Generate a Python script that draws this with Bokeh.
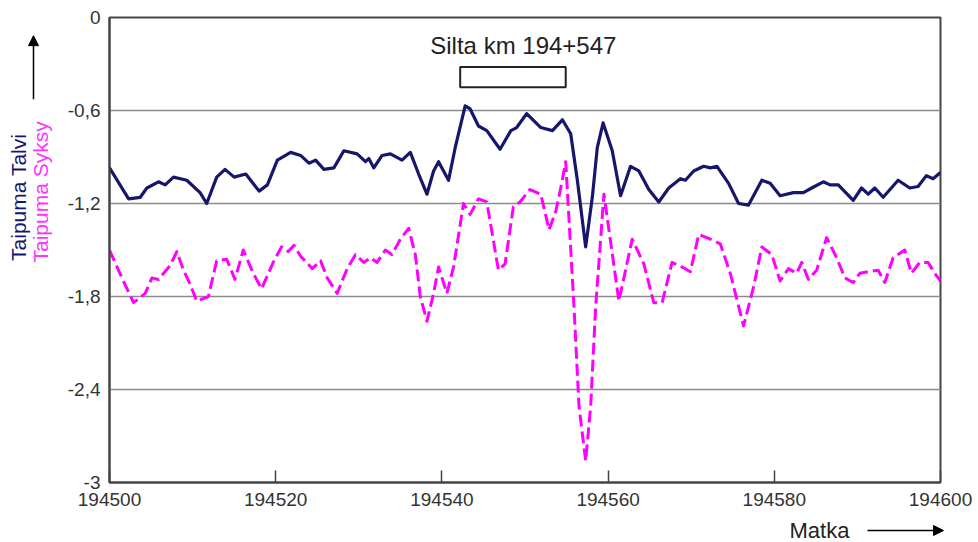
from bokeh.plotting import figure
from bokeh.layouts import row, column
from bokeh.models import (Range1d, FixedTicker, CustomJSTickFormatter, Label, Arrow,
                          NormalHead, BoxAnnotation, BasicTickFormatter)
from bokeh.embed import file_html
from bokeh.resources import INLINE

# ---- data ----
talvi_x = [194500.0, 194502.3, 194503.7, 194504.5, 194505.9, 194506.7, 194507.7, 194509.3,
           194510.9, 194511.7, 194512.9, 194513.9, 194515.0, 194516.4, 194518.0, 194519.0,
           194520.2, 194521.8, 194523.0, 194524.0, 194524.8, 194525.8, 194527.0, 194528.2,
           194529.8, 194530.8, 194531.2, 194531.8, 194532.8, 194533.8, 194535.2, 194536.2,
           194537.2, 194538.2, 194539.0, 194539.6, 194540.8, 194541.6, 194542.8, 194543.4,
           194544.4, 194545.4, 194547.0, 194548.3, 194549.0, 194550.2, 194551.9, 194553.3,
           194554.5, 194555.5, 194556.3, 194557.3, 194558.1, 194558.7, 194559.4, 194560.5,
           194561.5, 194562.7, 194563.7, 194564.9, 194566.1, 194567.3, 194568.7, 194569.3,
           194570.3, 194571.5, 194572.3, 194573.1, 194574.5, 194575.7, 194576.9, 194578.5,
           194579.5, 194580.7, 194582.3, 194583.5, 194584.5, 194585.9, 194586.7, 194587.7,
           194589.5, 194590.5, 194591.3, 194592.1, 194593.1, 194594.9, 194596.3, 194597.3,
           194598.3, 194599.1, 194600.0]
talvi_y = [-0.97, -1.17, -1.16, -1.10, -1.06, -1.08, -1.03, -1.05, -1.13, -1.20, -1.03, -0.98,
           -1.03, -1.01, -1.12, -1.08, -0.92, -0.87, -0.89, -0.94, -0.92, -0.98, -0.97, -0.86,
           -0.88, -0.93, -0.91, -0.97, -0.89, -0.88, -0.92, -0.87, -1.01, -1.14, -0.99, -0.93,
           -1.05, -0.84, -0.57, -0.59, -0.70, -0.73, -0.85, -0.73, -0.71, -0.62, -0.71, -0.73,
           -0.66, -0.75, -1.05, -1.48, -1.16, -0.84, -0.68, -0.86, -1.15, -0.96, -0.99, -1.11,
           -1.19, -1.10, -1.04, -1.05, -0.99, -0.96, -0.97, -0.96, -1.07, -1.20, -1.21, -1.05,
           -1.07, -1.15, -1.13, -1.13, -1.10, -1.06, -1.08, -1.08, -1.18, -1.10, -1.14, -1.10,
           -1.16, -1.05, -1.10, -1.09, -1.02, -1.04, -1.00]

syksy_x = [194500.0, 194501.5, 194502.9, 194504.3, 194505.1, 194505.9, 194507.3, 194508.1,
           194508.9, 194509.7, 194510.5, 194511.9, 194512.9, 194514.1, 194515.1, 194516.1,
           194517.3, 194518.3, 194519.7, 194520.7, 194521.5, 194522.2, 194523.0, 194524.4,
           194525.4, 194526.2, 194527.4, 194528.6, 194529.6, 194530.6, 194531.4, 194532.2,
           194533.2, 194534.0, 194535.0, 194536.0, 194536.8, 194537.4, 194538.2, 194539.0,
           194539.6, 194540.6, 194541.4, 194542.6, 194543.4, 194544.4, 194545.4, 194546.2,
           194546.8, 194547.6, 194548.6, 194549.4, 194550.6, 194551.9, 194552.9, 194553.7,
           194554.3, 194554.9, 194555.9, 194556.5, 194557.3, 194557.9, 194558.5, 194559.5,
           194561.3, 194562.9, 194564.3, 194565.5, 194566.5, 194567.7, 194568.9, 194569.9,
           194570.9, 194572.3, 194573.5, 194574.7, 194576.3, 194577.5, 194578.5, 194579.7,
           194580.7, 194581.7, 194582.7, 194583.3, 194584.1, 194585.1, 194586.3, 194587.5,
           194588.5, 194589.5, 194590.3, 194591.3, 194592.5, 194593.3, 194594.3, 194595.7,
           194596.5, 194597.5, 194598.5, 194599.3, 194600.0]
syksy_y = [-1.50, -1.68, -1.84, -1.78, -1.68, -1.69, -1.60, -1.51, -1.63, -1.72, -1.83, -1.80,
           -1.57, -1.56, -1.69, -1.50, -1.65, -1.75, -1.58, -1.48, -1.51, -1.47, -1.54, -1.62,
           -1.57, -1.68, -1.78, -1.62, -1.53, -1.58, -1.55, -1.58, -1.50, -1.53, -1.43, -1.36,
           -1.53, -1.80, -1.96, -1.78, -1.61, -1.78, -1.61, -1.20, -1.27, -1.17, -1.19, -1.44,
           -1.63, -1.59, -1.22, -1.19, -1.11, -1.14, -1.37, -1.25, -1.10, -0.93, -1.87, -2.51,
           -2.86, -2.51, -1.87, -1.14, -1.83, -1.43, -1.59, -1.84, -1.84, -1.58, -1.61, -1.64,
           -1.40, -1.43, -1.46, -1.65, -1.99, -1.74, -1.48, -1.53, -1.70, -1.62, -1.65, -1.58,
           -1.69, -1.63, -1.42, -1.55, -1.68, -1.71, -1.65, -1.64, -1.63, -1.71, -1.55, -1.50,
           -1.65, -1.58, -1.58, -1.65, -1.70]

x_ticks = [194500, 194520, 194540, 194560, 194580, 194600]
y_ticks = [0, -0.6, -1.2, -1.8, -2.4, -3]

label_talvi = "Taipuma Talvi"
label_syksy = "Taipuma Syksy"
label_x = "Matka"
bridge_text = "Silta km 194+547"

FONT = "Liberation Sans"
FRAME = "#444444"
NAVY = "#16166a"
MAGENTA = "#ff00ff"

LEFT_W = 58
MAIN_H = 512


def blank(width, height):
    f = figure(width=width, height=height, output_backend="svg", toolbar_location=None,
               x_range=Range1d(0, width), y_range=Range1d(height, 0),
               min_border=0, x_axis_type=None, y_axis_type=None)
    f.outline_line_color = None
    f.grid.visible = False
    f.background_fill_color = "white"
    f.border_fill_color = "white"
    return f


# ---- main plot ----
p = figure(width=978 - LEFT_W, height=MAIN_H, output_backend="svg", toolbar_location=None,
           x_range=Range1d(194500, 194600), y_range=Range1d(-3, 0),
           min_border_left=109 - LEFT_W, min_border_right=38, min_border_top=17,
           min_border_bottom=MAIN_H - 482)
p.background_fill_color = "white"
p.border_fill_color = "white"
p.outline_line_color = FRAME
p.outline_line_width = 2

p.xgrid.visible = False
p.ygrid.ticker = FixedTicker(ticks=y_ticks)
p.ygrid.grid_line_color = "#8c8c8c"
p.ygrid.grid_line_width = 1.5

p.xaxis.ticker = FixedTicker(ticks=x_ticks)
p.xaxis.formatter = BasicTickFormatter(use_scientific=False)
p.xaxis.major_tick_in = 12
p.xaxis.major_tick_out = 0
p.xaxis.minor_tick_line_color = None
p.xaxis.major_label_standoff = 10

p.yaxis.ticker = FixedTicker(ticks=y_ticks)
p.yaxis.formatter = CustomJSTickFormatter(code="""
    if (Math.abs(tick - Math.round(tick)) < 1e-9) { return Math.round(tick).toString(); }
    return tick.toFixed(1).replace('.', ',');
""")
p.yaxis.major_tick_in = 0
p.yaxis.major_tick_out = 0
p.yaxis.minor_tick_line_color = None
p.yaxis.major_label_standoff = 9

for ax in (p.xaxis[0], p.yaxis[0]):
    ax.axis_line_color = FRAME
    ax.axis_line_width = 2
    ax.major_tick_line_color = FRAME
    ax.major_tick_line_width = 1.5
    ax.major_label_text_font = FONT
    ax.major_label_text_font_size = "19px"
    ax.major_label_text_color = "#333333"

p.line(talvi_x, talvi_y, line_color=NAVY, line_width=3.2, line_join="round")
p.line(syksy_x, syksy_y, line_color=MAGENTA, line_width=3, line_dash="12 5", line_join="round")

p.add_layout(BoxAnnotation(left=194542.2, right=194554.9, top=-0.32, bottom=-0.45,
                           fill_color=None, fill_alpha=0, line_color="#222222",
                           line_alpha=1, line_width=2))
p.add_layout(Label(x=194549.8, y=-0.18, text=bridge_text, text_align="center",
                   text_baseline="middle", text_font=FONT, text_font_size="24px",
                   text_color="#222222"))

# ---- left strip: rotated axis titles + arrow (pixel coordinates) ----
left = blank(LEFT_W, MAIN_H)
left.add_layout(Label(x=18, y=198, text=label_talvi, angle=1.5708, text_align="center",
                      text_baseline="middle", text_font=FONT, text_font_size="21px",
                      text_color=NAVY))
left.add_layout(Label(x=40, y=192, text=label_syksy, angle=1.5708, text_align="center",
                      text_baseline="middle", text_font=FONT, text_font_size="21px",
                      text_color="#ff33ff"))
left.add_layout(Arrow(end=NormalHead(size=10, fill_color="black", line_color="black"),
                      x_start=33, y_start=90, x_end=33, y_end=20,
                      line_color="black", line_width=1.5))

# ---- bottom strip: x title + arrow ----
BOT_H = 542 - MAIN_H
bottom = blank(978, BOT_H)
bottom.add_layout(Label(x=819, y=18, text=label_x, text_align="center",
                        text_baseline="middle", text_font=FONT, text_font_size="22px",
                        text_color="#222222"))
bottom.add_layout(Arrow(end=NormalHead(size=10, fill_color="black", line_color="black"),
                        x_start=867, y_start=18, x_end=943, y_end=18,
                        line_color="black", line_width=1.5))

layout = column(row(left, p, spacing=0), bottom, spacing=0)
open("out.html", "w").write(file_html(layout, INLINE))
